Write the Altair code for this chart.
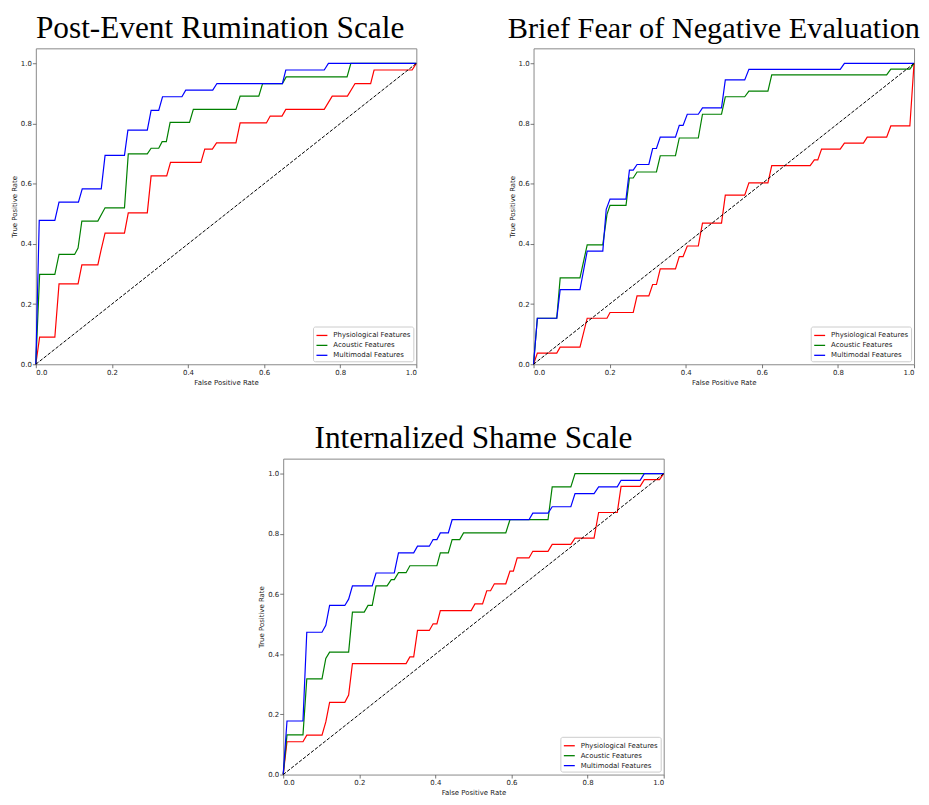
import altair as alt
import pandas as pd

SERIES = ["Physiological Features", "Acoustic Features", "Multimodal Features"]
COLORS = ["#ff0000", "#008000", "#0000ff"]
TITLES = ["Post-Event Rumination Scale", "Brief Fear of Negative Evaluation", "Internalized Shame Scale"]
TICKS = [0.0, 0.2, 0.4, 0.6, 0.8, 1.0]
DIAG = [0.0, 1.0]

# ---- Panel 1: Post-Event Rumination Scale ----
p1_phys_fpr = [0, 0.010, 0.050, 0.061, 0.111, 0.121, 0.163, 0.171, 0.182, 0.233, 0.243, 0.293, 0.303, 0.344, 0.354, 0.434, 0.444, 0.464, 0.475, 0.526, 0.537, 0.606, 0.616, 0.647, 0.657, 0.758, 0.779, 0.819, 0.839, 0.880, 0.889, 0.989, 1.0]
p1_phys_tpr = [0, 0.090, 0.090, 0.267, 0.267, 0.330, 0.330, 0.377, 0.436, 0.436, 0.503, 0.503, 0.626, 0.626, 0.671, 0.671, 0.715, 0.715, 0.736, 0.736, 0.802, 0.802, 0.825, 0.825, 0.847, 0.847, 0.891, 0.891, 0.933, 0.933, 0.978, 0.978, 1.0]
p1_acou_fpr = [0, 0.010, 0.050, 0.061, 0.102, 0.111, 0.121, 0.163, 0.182, 0.233, 0.243, 0.293, 0.303, 0.323, 0.332, 0.343, 0.353, 0.404, 0.414, 0.526, 0.537, 0.586, 0.596, 0.648, 0.658, 0.818, 0.828, 1.0]
p1_acou_tpr = [0, 0.299, 0.299, 0.365, 0.365, 0.386, 0.476, 0.476, 0.520, 0.520, 0.699, 0.699, 0.718, 0.718, 0.740, 0.740, 0.804, 0.804, 0.847, 0.847, 0.891, 0.891, 0.933, 0.933, 0.955, 0.955, 1.0, 1.0]
p1_mult_fpr = [0, 0.009, 0.050, 0.061, 0.112, 0.122, 0.172, 0.182, 0.233, 0.242, 0.293, 0.303, 0.323, 0.333, 0.384, 0.394, 0.465, 0.476, 0.648, 0.657, 0.758, 0.769, 1.0]
p1_mult_tpr = [0, 0.478, 0.478, 0.539, 0.539, 0.583, 0.583, 0.694, 0.694, 0.778, 0.778, 0.844, 0.844, 0.889, 0.889, 0.911, 0.911, 0.933, 0.933, 0.978, 0.978, 1.0, 1.0]

# ---- Panel 2: Brief Fear of Negative Evaluation ----
p2_phys_fpr = [0, 0.010, 0.061, 0.070, 0.122, 0.141, 0.193, 0.201, 0.262, 0.272, 0.303, 0.313, 0.323, 0.333, 0.373, 0.383, 0.393, 0.404, 0.433, 0.444, 0.494, 0.504, 0.555, 0.566, 0.616, 0.626, 0.727, 0.738, 0.747, 0.757, 0.806, 0.817, 0.867, 0.877, 0.928, 0.939, 0.989, 1.0]
p2_phys_tpr = [0, 0.037, 0.037, 0.057, 0.057, 0.153, 0.153, 0.172, 0.172, 0.227, 0.227, 0.265, 0.265, 0.317, 0.317, 0.358, 0.358, 0.393, 0.393, 0.469, 0.469, 0.562, 0.562, 0.603, 0.603, 0.660, 0.660, 0.679, 0.679, 0.715, 0.715, 0.735, 0.735, 0.755, 0.755, 0.792, 0.792, 1.0]
p2_acou_fpr = [0, 0.010, 0.061, 0.070, 0.122, 0.141, 0.182, 0.193, 0.201, 0.243, 0.252, 0.262, 0.272, 0.323, 0.333, 0.373, 0.383, 0.433, 0.444, 0.494, 0.504, 0.555, 0.566, 0.616, 0.626, 0.928, 0.939, 0.989, 1.0]
p2_acou_tpr = [0, 0.153, 0.153, 0.287, 0.287, 0.397, 0.397, 0.498, 0.528, 0.528, 0.619, 0.619, 0.639, 0.639, 0.693, 0.693, 0.752, 0.752, 0.831, 0.831, 0.889, 0.889, 0.908, 0.908, 0.962, 0.962, 0.981, 0.981, 1.0]
p2_mult_fpr = [0, 0.010, 0.061, 0.070, 0.122, 0.141, 0.182, 0.191, 0.201, 0.243, 0.252, 0.262, 0.272, 0.303, 0.313, 0.323, 0.333, 0.373, 0.383, 0.393, 0.404, 0.433, 0.444, 0.494, 0.504, 0.555, 0.566, 0.806, 0.817, 1.0]
p2_mult_tpr = [0, 0.153, 0.153, 0.248, 0.248, 0.376, 0.376, 0.515, 0.549, 0.549, 0.645, 0.645, 0.664, 0.664, 0.717, 0.717, 0.755, 0.755, 0.794, 0.794, 0.831, 0.831, 0.852, 0.852, 0.945, 0.945, 0.980, 0.980, 1.0, 1.0]

# ---- Panel 3: Internalized Shame Scale ----
p3_phys_fpr = [0, 0.010, 0.052, 0.062, 0.102, 0.112, 0.122, 0.162, 0.172, 0.182, 0.323, 0.333, 0.343, 0.353, 0.384, 0.394, 0.404, 0.413, 0.494, 0.504, 0.524, 0.535, 0.545, 0.555, 0.585, 0.596, 0.605, 0.615, 0.646, 0.656, 0.696, 0.707, 0.756, 0.767, 0.817, 0.829, 0.878, 0.888, 0.938, 0.949, 0.989, 1.0]
p3_phys_tpr = [0, 0.109, 0.109, 0.131, 0.131, 0.175, 0.240, 0.240, 0.264, 0.369, 0.369, 0.391, 0.391, 0.479, 0.479, 0.501, 0.501, 0.545, 0.545, 0.567, 0.567, 0.611, 0.611, 0.634, 0.634, 0.676, 0.676, 0.720, 0.720, 0.742, 0.742, 0.765, 0.765, 0.786, 0.786, 0.871, 0.871, 0.958, 0.958, 0.980, 0.980, 1.0]
p3_acou_fpr = [0, 0.010, 0.052, 0.062, 0.102, 0.112, 0.122, 0.172, 0.182, 0.213, 0.223, 0.234, 0.244, 0.273, 0.284, 0.292, 0.303, 0.323, 0.333, 0.404, 0.413, 0.434, 0.444, 0.464, 0.474, 0.585, 0.596, 0.696, 0.707, 0.756, 0.767, 1.0]
p3_acou_tpr = [0, 0.132, 0.132, 0.318, 0.318, 0.386, 0.407, 0.407, 0.540, 0.540, 0.562, 0.562, 0.627, 0.627, 0.648, 0.648, 0.671, 0.671, 0.694, 0.694, 0.737, 0.737, 0.781, 0.781, 0.803, 0.803, 0.847, 0.847, 0.956, 0.956, 1.0, 1.0]
p3_mult_fpr = [0, 0.010, 0.052, 0.062, 0.102, 0.112, 0.122, 0.162, 0.172, 0.182, 0.234, 0.244, 0.292, 0.303, 0.343, 0.353, 0.384, 0.394, 0.404, 0.413, 0.434, 0.444, 0.646, 0.656, 0.696, 0.707, 0.756, 0.767, 0.817, 0.829, 0.878, 0.888, 0.938, 0.949, 1.0]
p3_mult_tpr = [0, 0.178, 0.178, 0.473, 0.473, 0.496, 0.562, 0.562, 0.583, 0.627, 0.627, 0.670, 0.670, 0.737, 0.737, 0.759, 0.759, 0.781, 0.781, 0.803, 0.803, 0.847, 0.847, 0.869, 0.869, 0.890, 0.890, 0.934, 0.934, 0.956, 0.956, 0.978, 0.978, 1.0, 1.0]

PANELS = [
    [(p1_phys_fpr, p1_phys_tpr), (p1_acou_fpr, p1_acou_tpr), (p1_mult_fpr, p1_mult_tpr)],
    [(p2_phys_fpr, p2_phys_tpr), (p2_acou_fpr, p2_acou_tpr), (p2_mult_fpr, p2_mult_tpr)],
    [(p3_phys_fpr, p3_phys_tpr), (p3_acou_fpr, p3_acou_tpr), (p3_mult_fpr, p3_mult_tpr)],
]

PW, PH = 383, 318


def panel(idx, title_dx, title_size=31.5):
    x = alt.X("fpr:Q", scale=alt.Scale(domain=[0, 1], nice=False, zero=False),
              axis=alt.Axis(values=TICKS, format=".1f", title="False Positive Rate"))
    y = alt.Y("tpr:Q", scale=alt.Scale(domain=[0, 1.05], nice=False, zero=False),
              axis=alt.Axis(values=TICKS, format=".1f", title="True Positive Rate"))
    color = alt.Color("series:N", scale=alt.Scale(domain=SERIES, range=COLORS),
                      legend=alt.Legend(title=None))
    layers = []
    for name, (f, t) in zip(SERIES, PANELS[idx]):
        df = pd.DataFrame({"fpr": f, "tpr": t, "series": name, "step": list(range(len(f)))})
        layers.append(
            alt.Chart(df).mark_line(strokeWidth=1.2).encode(
                x=x, y=y, color=color, order=alt.Order("step:Q")
            )
        )
    diag = alt.Chart(pd.DataFrame({"fpr": DIAG, "tpr": DIAG})).mark_line(
        color="black", strokeDash=[3.5, 1.6], strokeWidth=1
    ).encode(x=x, y=y)
    layers.append(diag)
    return alt.layer(*layers).properties(
        width=PW, height=PH,
        title=alt.TitleParams(TITLES[idx], dx=title_dx, fontSize=title_size),
    )


p1 = panel(0, -6)
p2 = panel(1, -10, 30.5)
p3 = panel(2, 0)

spacer = alt.Chart(pd.DataFrame({"v": [0]})).mark_point(opacity=0).encode(
    x=alt.value(0), y=alt.value(0)
).properties(width=249, height=PH, view=alt.ViewBackground(stroke="transparent"))

row1 = alt.hconcat(p1, p2, spacing=118, bounds="flush").resolve_scale(color="independent").resolve_legend(color="independent")
row2 = alt.hconcat(spacer, p3, spacing=0, bounds="flush").resolve_scale(color="independent").resolve_legend(color="independent")

chart = alt.vconcat(row1, row2, spacing=37).resolve_scale(
    color="independent").resolve_legend(color="independent").properties(
    padding={"left": 1, "top": 2, "right": 0, "bottom": 0}
).configure_view(
    stroke="#888888", strokeWidth=1
).configure_axis(
    grid=False, domain=False,
    labelFont="DejaVu Sans", labelFontSize=7, labelColor="#222222",
    titleFont="DejaVu Sans", titleFontSize=7, titleFontWeight="normal", titleColor="#222222",
    tickSize=3.5, tickColor="#555555", tickWidth=0.8, labelPadding=1, titlePadding=3,
).configure_title(
    font="Liberation Serif", fontSize=31.5, fontWeight="normal", color="black",
    baseline="alphabetic", offset=4, anchor="middle",
).configure_legend(
    orient="bottom-right", offset=3, padding=2.5,
    strokeColor="#cccccc", fillColor="white", cornerRadius=2,
    symbolType="stroke", symbolSize=121, symbolStrokeWidth=1.3,
    labelFont="DejaVu Sans", labelFontSize=7, labelColor="#222222",
    labelOffset=5, rowPadding=0,
)

chart.save("out.html", embed_options={"renderer": "svg", "actions": False})
